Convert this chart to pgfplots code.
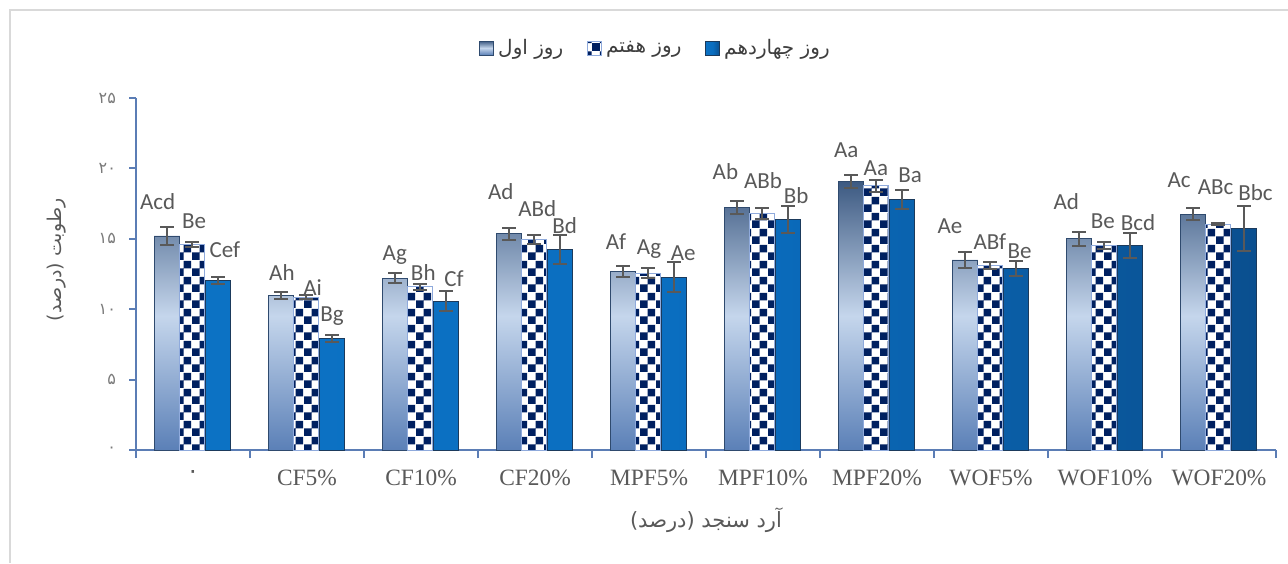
\documentclass[border=0pt]{standalone}
\usepackage{fontspec}
\setmainfont{Liberation Serif}
\newfontfamily\arabicfont[Script=Arabic]{DejaVu Sans}
\newfontfamily\calibri{Carlito}
\usepackage{pgfplots}
\pgfplotsset{compat=1.18}
\usepackage{pgfplotstable}
\usetikzlibrary{patterns}
\TeXXeTstate=1

\definecolor{axiscol}{HTML}{5B7DB5}
\definecolor{textgray}{HTML}{595959}
\definecolor{framecol}{HTML}{D9D9D9}
\definecolor{errcol}{HTML}{595959}
\definecolor{navy}{HTML}{002060}
\definecolor{oneedge}{HTML}{2F4A6E}
\definecolor{onetop}{HTML}{3D5A82}
\definecolor{onemid}{HTML}{C5D6EC}
\definecolor{onebot}{HTML}{5B80B7}
\definecolor{sevenedge}{HTML}{8FAADC}
\definecolor{fourteenedge}{HTML}{1B3A5C}
\definecolor{fourteenleft}{HTML}{0C72C4}
\definecolor{fourteenmid}{HTML}{0A6DBF}
\definecolor{fourteenright}{HTML}{0A4F8F}

% checkerboard for day 7
\pgfdeclarepatternformonly{checker}{\pgfqpoint{0pt}{0pt}}{\pgfqpoint{8pt}{8pt}}{\pgfqpoint{8pt}{8pt}}{%
  \pgfpathrectangle{\pgfqpoint{0pt}{0pt}}{\pgfqpoint{4pt}{4pt}}%
  \pgfpathrectangle{\pgfqpoint{4pt}{4pt}}{\pgfqpoint{4pt}{4pt}}%
  \pgfusepath{fill}}

% day 1
\pgfplotstableread{
x y e
0 15.20 0.64
1 11.00 0.24
2 12.20 0.36
3 15.35 0.42
4 12.70 0.39
5 17.25 0.46
6 19.05 0.45
7 13.50 0.59
8 15.00 0.49
9 16.75 0.44
}\dayone
% day 7
\pgfplotstableread{
x y e
0 14.60 0.16
1 10.85 0.16
2 11.60 0.21
3 14.97 0.32
4 12.57 0.34
5 16.80 0.38
6 18.77 0.44
7 13.10 0.24
8 14.52 0.25
9 16.05 0.06
}\dayseven
% day 14
\pgfplotstableread{
x y e
0 12.02 0.25
1 7.93 0.27
2 10.58 0.71
3 14.22 1.04
4 12.28 1.09
5 16.38 0.96
6 17.78 0.68
7 12.90 0.53
8 14.50 0.89
9 15.72 1.59
}\dayfourteen
% letter groups, placed as in the chart
\pgfplotstableread{
lx ly lab
-0.31 17.66 Acd
0.01 16.24 Be
0.28 14.25 Cef
0.78 12.61 Ah
1.05 11.54 Ai
1.22 9.54 Bg
1.77 13.82 Ag
2.02 12.64 Bh
2.29 12.14 Cf
2.70 18.33 Ad
3.02 17.13 ABd
3.26 15.92 Bd
3.71 14.78 Af
4.00 14.25 Ag
4.30 14.00 Ae
4.67 19.76 Ab
5.00 19.12 ABb
5.29 18.09 Bb
5.73 21.30 Aa
5.99 19.98 Aa
6.29 19.52 Ba
6.64 15.92 Ae
6.99 14.78 ABf
7.25 14.14 Be
7.66 17.63 Ad
7.98 16.28 Be
8.29 16.13 Bcd
8.65 19.16 Ac
8.97 18.63 ABc
9.32 18.27 Bbc
}\lettertab

\begin{document}
\begin{tikzpicture}
\useasboundingbox (0,0) rectangle (644pt,281.5pt);
\draw[framecol, line width=1pt] (5pt,0pt) -- (5pt,276.5pt) -- (644pt,276.5pt);
\begin{axis}[
  at={(68pt,56.5pt)}, anchor=south west,
  scale only axis, width=570pt, height=176pt,
  xmin=-0.5, xmax=9.5, ymin=0, ymax=25,
  ybar, bar width=12.8pt,
  axis x line*=bottom, axis y line*=left,
  axis line style={draw=axiscol, line width=1pt},
  clip=false,
  tick align=outside,
  xtick={0,...,9},
  xticklabels={{\arabicfont ۰},CF5\%,CF10\%,CF20\%,MPF5\%,MPF10\%,MPF20\%,WOF5\%,WOF10\%,WOF20\%},
  minor xtick={-0.5,0.5,...,9.5},
  major x tick style={draw=none},
  minor x tick style={draw=axiscol, line width=1pt},
  minor tick length=4pt,
  major tick length=3.5pt,
  ytick={0,5,...,25},
  yticklabels={۰,۵,۱۰,۱۵,۲۰,۲۵},
  y tick style={draw=axiscol, line width=1pt},
  xticklabel style={font=\fontsize{11.7}{13}\selectfont, text=textgray, yshift=-3pt},
  yticklabel style={font=\arabicfont\fontsize{8}{9}\selectfont, text=textgray!80, xshift=-3pt},
  every axis y label/.style={at={(axis description cs:-0.0697,0.54)}, rotate=90, anchor=center,
    font=\arabicfont\fontsize{9.5}{11}\selectfont, text=textgray},
  every axis x label/.style={at={(axis description cs:0.5,-0.199)}, anchor=center,
    font=\arabicfont\fontsize{10.5}{12}\selectfont, text=textgray},
  ylabel={\beginR رطوبت (درصد)\endR},
  xlabel={\beginR آرد سنجد (درصد)\endR},
  legend columns=-1,
  legend style={at={(0.4566,1.142)}, anchor=center, draw=none, fill=none,
    font=\arabicfont\fontsize{10}{12}\selectfont, text=textgray!70!black,
    /tikz/every even column/.append style={column sep=10pt}},
  sq legend/.style={legend image code/.code={\draw[##1, line width=0.4pt] (0pt,-3.5pt) rectangle (7pt,3.5pt);}},
  err/.style={error bars/.cd, y dir=both, y explicit,
    error bar style={errcol, line width=1pt},
    error mark options={errcol, line width=1pt, mark size=3.5pt, rotate=90}},
]
\addplot[bar shift=-13pt, sq legend,
  draw=oneedge, line width=0.4pt,
  top color=onetop, bottom color=onebot, middle color=onemid, err]
  table[x=x, y=y, y error=e] {\dayone};
\addlegendentry{\beginR روز اول\endR}
\addplot[bar shift=-0.5pt, sq legend,
  draw=sevenedge, line width=0.4pt, fill=white,
  postaction={pattern=checker, pattern color=navy}, err]
  table[x=x, y=y, y error=e] {\dayseven};
\addlegendentry{\beginR روز هفتم\endR}
\addplot[bar shift=12.5pt, sq legend,
  draw=fourteenedge, line width=0.4pt,
  left color=fourteenleft, right color=fourteenright, middle color=fourteenmid, err]
  table[x=x, y=y, y error=e] {\dayfourteen};
\addlegendentry{\beginR روز چهاردهم\endR}
\addplot[sharp plot, bar shift=0pt, forget plot, draw=none, mark=none, nodes near coords, point meta=explicit symbolic,
  every node near coord/.append style={font=\calibri\fontsize{11.5}{13}\selectfont,
    text=textgray, anchor=center, inner sep=0pt, xshift=0pt, yshift=0pt}]
  table[x=lx, y=ly, meta=lab] {\lettertab};
\end{axis}
\end{tikzpicture}
\end{document}
